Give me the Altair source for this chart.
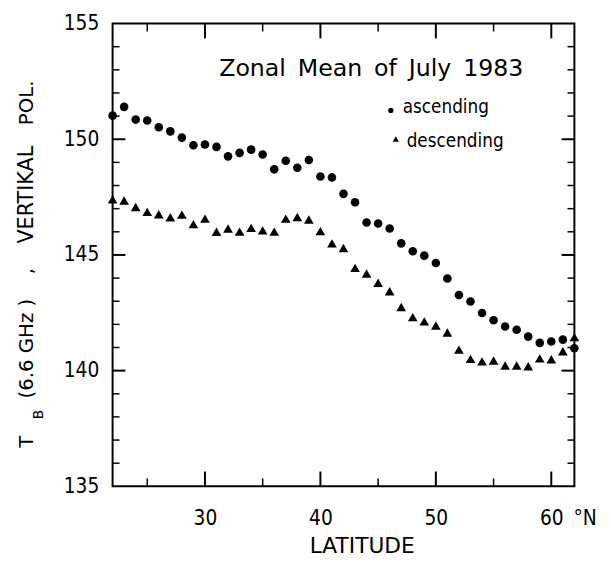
import altair as alt
import pandas as pd

# ---------------- data ----------------
lat = list(range(22, 63))
ascending = [151.02, 151.40, 150.85, 150.81, 150.52, 150.34, 150.07, 149.74, 149.77, 149.67,
             149.26, 149.41, 149.55, 149.34, 148.70, 149.07, 148.77, 149.10, 148.39, 148.35,
             147.64, 147.28, 146.40, 146.36, 146.14, 145.50, 145.16, 144.97, 144.65, 143.98,
             143.27, 142.99, 142.49, 142.18, 141.91, 141.77, 141.47, 141.20, 141.26, 141.34,
             140.97]
descending = [147.40, 147.35, 147.07, 146.86, 146.76, 146.63, 146.74, 146.33, 146.57, 146.00,
              146.14, 146.01, 146.17, 146.06, 146.01, 146.57, 146.64, 146.53, 146.03, 145.50,
              145.30, 144.44, 144.20, 143.80, 143.43, 142.75, 142.31, 142.13, 141.95, 141.65,
              140.91, 140.51, 140.40, 140.44, 140.22, 140.22, 140.19, 140.53, 140.49, 140.84,
              141.45]

y_labels = [135, 140, 145, 150, 155]
y_major = [140, 145, 150]
y_minor = [v for v in range(136, 155) if v % 5 != 0]
x_labels = [30, 40, 50, 60]
x_major = [30, 40, 50, 60]
x_minor = [25, 35, 45, 55]

title_text = "Zonal\u2002Mean\u2002of\u2002July\u20021983"
legend_labels = ["ascending", "descending"]
x_title = "LATITUDE"
y_title_parts = ["T", "B", "(6.6 GHz )", ",", "VERTIKAL", "POL."]

# ---------------- layout ----------------
W, H = 468, 469
X0, X1, Y0, Y1 = 22, 62, 135, 155
SX = W / (X1 - X0)   # px per degree
SY = H / (Y1 - Y0)   # px per kelvin
FONT = "DejaVu Sans"
CFONT = "DejaVu Sans Condensed, DejaVu Sans"

xs = alt.Scale(domain=[X0, X1], nice=False, zero=False)
ys = alt.Scale(domain=[Y0, Y1], nice=False, zero=False)

xaxis = alt.Axis(values=x_labels, ticks=False, tickSize=0, domain=False, grid=False,
                 labelFontSize=21, labelFont=CFONT, labelColor="black",
                 labelBaseline="alphabetic", labelPadding=39, title=None)
yaxis = alt.Axis(values=y_labels, ticks=False, tickSize=0, domain=False, grid=False,
                 labelFontSize=21, labelFont=CFONT, labelColor="black",
                 labelPadding=14, title=None)


def X(f="lat"):
    return alt.X(f"{f}:Q", scale=xs, axis=xaxis)


def Y(f="tb"):
    return alt.Y(f"{f}:Q", scale=ys, axis=yaxis)


df_a = pd.DataFrame({"lat": lat, "tb": ascending})
df_d = pd.DataFrame({"lat": lat, "tb": descending})

asc = alt.Chart(df_a).mark_point(shape="circle", filled=True, size=76, color="black",
                                 opacity=1).encode(x=X(), y=Y())
desc = alt.Chart(df_d).mark_point(shape="triangle-up", filled=True, size=96, color="black",
                                  opacity=1).encode(x=X(), y=Y())


def yticks(vals, length, width):
    d = pd.DataFrame({"tb": vals})
    d["l0"] = X0
    d["l1"] = X0 + length / SX
    d["r0"] = X1
    d["r1"] = X1 - length / SX
    left = alt.Chart(d).mark_rule(color="black", strokeWidth=width).encode(
        y=Y(), x=X("l0"), x2="l1:Q")
    right = alt.Chart(d).mark_rule(color="black", strokeWidth=width).encode(
        y=Y(), x=X("r0"), x2="r1:Q")
    return [left, right]


def xticks(vals, length, width):
    d = pd.DataFrame({"lat": vals})
    d["b0"] = Y0
    d["b1"] = Y0 + length / SY
    d["t0"] = Y1
    d["t1"] = Y1 - length / SY
    bottom = alt.Chart(d).mark_rule(color="black", strokeWidth=width).encode(
        x=X(), y=Y("b0"), y2="b1:Q")
    top = alt.Chart(d).mark_rule(color="black", strokeWidth=width).encode(
        x=X(), y=Y("t0"), y2="t1:Q")
    return [bottom, top]


one = pd.DataFrame({"a": [0]})


def text(t, x, y, size, align="left", baseline="alphabetic", angle=0, font=FONT):
    kw = dict(text=t, font=font, fontSize=size, align=align, baseline=baseline, color="black")
    if angle:
        kw["angle"] = angle
    return alt.Chart(one).mark_text(**kw).encode(x=alt.value(x), y=alt.value(y))


title = text(title_text, 108, 53, 24)
leg_dot = alt.Chart(one).mark_point(shape="circle", filled=True, size=28, color="black",
                                    opacity=1).encode(x=alt.value(282), y=alt.value(88))
leg_tri = alt.Chart(one).mark_point(shape="triangle-up", filled=True, size=40, color="black",
                                    opacity=1).encode(x=alt.value(287), y=alt.value(117))
leg_a = text(legend_labels[0], 294, 91, 19, font=CFONT)
leg_d = text(legend_labels[1], 298, 125, 19, font=CFONT)
deg_n = text("°N", 467, 508, 21, font=CFONT)
xt = text(x_title, 253, 537, 22, align="center")

BX = -81
yt = [
    text(y_title_parts[0], BX, 430, 20, angle=270),
    text(y_title_parts[1], BX + 10, 401, 14, angle=270),
    text(y_title_parts[2], BX, 380, 20, angle=270),
    text(y_title_parts[3], BX, 254, 20, angle=270),
    text(y_title_parts[4], BX, 223, 21, angle=270),
    text(y_title_parts[5], BX, 103, 20, angle=270),
]

layers = [asc, desc] + yticks(y_major, 13, 2) + yticks(y_minor, 7, 1.5) \
    + xticks(x_major, 15, 2) + xticks(x_minor, 8, 1.5) \
    + [title, leg_dot, leg_tri, leg_a, leg_d, deg_n, xt] + yt

chart = alt.layer(*layers).properties(
    width=W, height=H,
    background="white",
    autosize=alt.AutoSizeParams(type="none"),
    padding={"left": 106, "top": 12, "right": 29, "bottom": 78},
).configure_view(stroke="black", strokeWidth=2)

chart.save("out.html", embed_options={"renderer": "svg", "actions": False})
